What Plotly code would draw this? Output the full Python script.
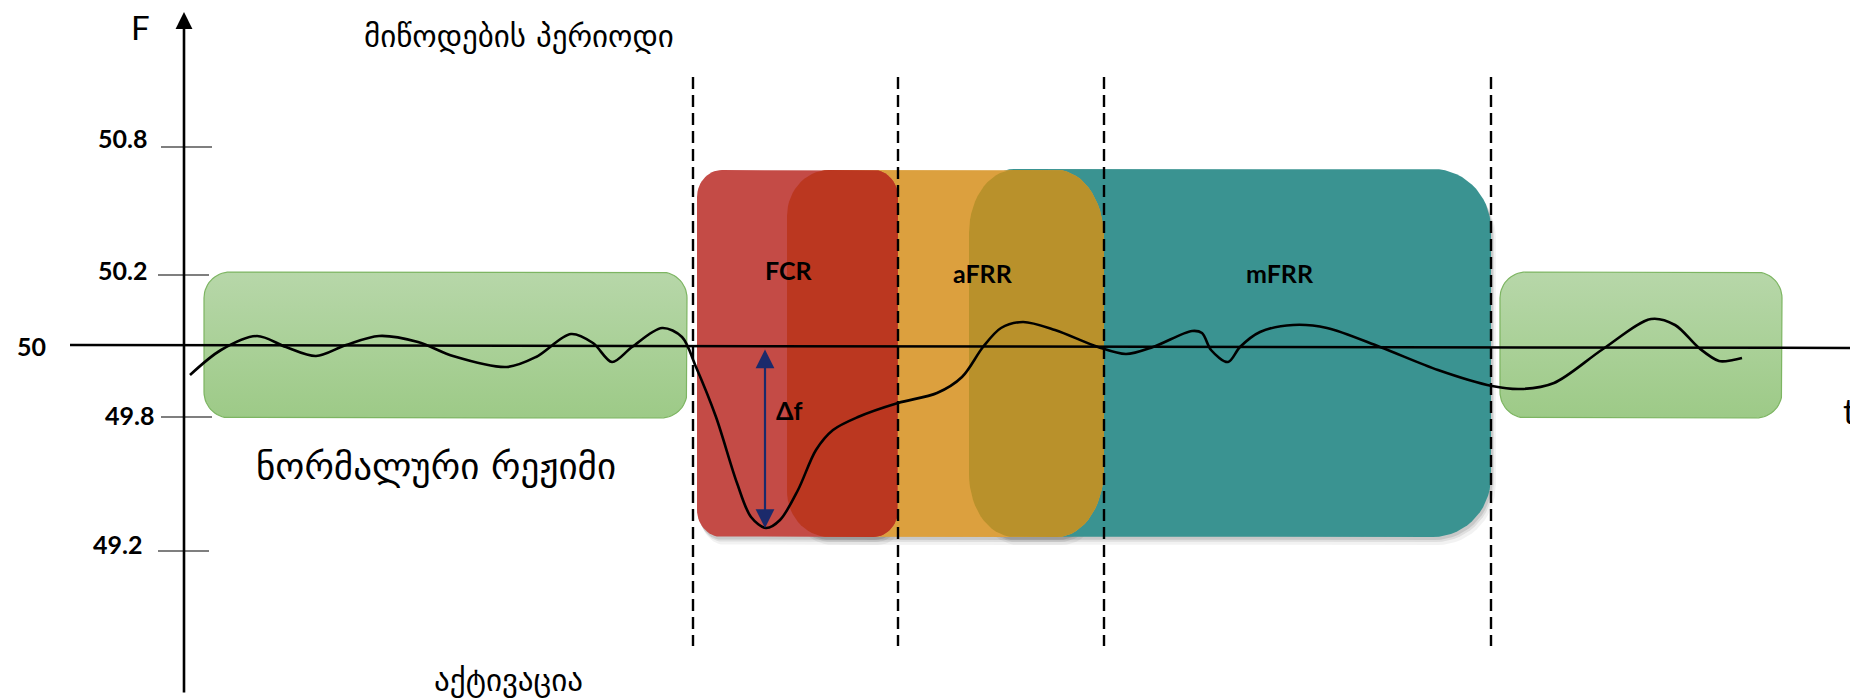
import numpy as np
import plotly.graph_objects as go

# ---------------- data (in chart units: t -> px, f -> px) -------------
curve_t = [190, 221, 257, 286, 316, 346, 379, 418, 453, 507, 536, 571, 593, 612, 632, 662, 682,
           696, 716, 737, 751, 766, 780, 798, 816, 833, 858, 898, 937, 962, 983, 1001, 1023, 1055,
           1098, 1126, 1153, 1192, 1202, 1211, 1228, 1240, 1260, 1293, 1327, 1380, 1438, 1492,
           1521, 1554, 1603, 1651, 1675, 1699, 1719, 1733, 1742]
curve_f = [375, 350, 336, 347, 356, 345, 336, 342, 356, 367, 357, 334, 343, 362, 347, 328, 337,
           367, 417, 483, 517, 528, 520, 490, 450, 430, 417, 403, 393, 377, 347, 328, 322, 330,
           347, 354, 347, 331, 333, 350, 362, 347, 332, 325, 328, 347, 370, 386,
           389, 383, 349, 319, 325, 348, 361, 360, 358]

baseline_t = [70, 1858]
baseline_f = [345, 348]

tick_labels = ["50.8", "50.2", "50", "49.8", "49.2"]
tick_pos = [147, 275, 345, 417, 551]

period_bounds = [693, 898, 1104, 1491]

reserve_names = ["FCR", "aFRR", "mFRR"]
reserve_start = [697, 787, 969]
reserve_end = [898, 1104, 1491]

normal_start = [204, 1500]
normal_end = [687, 1782]

delta_f_top = 348
delta_f_bottom = 528
delta_f_t = 765

# ---------------- helpers ----------------
def rrect(x0, x1, y0, y1, rl, rr, n=16):
    """rounded rectangle; rl / rr = (rx, ry) of left / right corners"""
    xs, ys = [], []
    def arc(cx, cy, rx, ry, a0, a1):
        for th in np.linspace(a0, a1, n):
            xs.append(cx + rx * np.cos(th))
            ys.append(cy - ry * np.sin(th))
    arc(x0 + rl[0], y0 + rl[1], rl[0], rl[1], np.pi, np.pi / 2)
    arc(x1 - rr[0], y0 + rr[1], rr[0], rr[1], np.pi / 2, 0)
    arc(x1 - rr[0], y1 - rr[1], rr[0], rr[1], 0, -np.pi / 2)
    arc(x0 + rl[0], y1 - rl[1], rl[0], rl[1], -np.pi / 2, -np.pi)
    xs.append(xs[0]); ys.append(ys[0])
    return xs, ys

fig = go.Figure()

def add_poly(xs, ys, color, line_color=None, line_width=0, gradient=None):
    kw = dict(x=xs, y=ys, mode="lines", fill="toself", hoverinfo="skip", showlegend=False,
              line=dict(color=line_color or "rgba(0,0,0,0)", width=line_width))
    if gradient:
        kw["fillgradient"] = gradient
    else:
        kw["fillcolor"] = color
    fig.add_trace(go.Scatter(**kw))

BOX_TOP, BOX_BOT = 170, 537
R_RED = (25, 27)
R_ORG_L, R_ORG_R = (42, 46), (47, 68)
R_TEAL_L, R_TEAL_R = (45, 63), (58, 60)

# soft shadows
for s, e, rl, rr in [(697, 898, R_RED, R_RED), (787, 1104, R_ORG_L, R_ORG_R),
                     (969, 1491, R_TEAL_L, R_TEAL_R)]:
    for off, a in [(8, 0.05), (5, 0.08), (3, 0.10)]:
        xs, ys = rrect(s + off * 0.5, e + off * 0.6, BOX_TOP + off, BOX_BOT + off, rl, rr)
        add_poly(xs, ys, f"rgba(0,0,0,{a})")

# mFRR (teal)
xs, ys = rrect(reserve_start[2], reserve_end[2], BOX_TOP - 1, BOX_BOT, R_TEAL_L, R_TEAL_R)
add_poly(xs, ys, "#3A9391")
# aFRR (orange)
xs, ys = rrect(reserve_start[1], reserve_end[1], BOX_TOP, BOX_BOT, R_ORG_L, R_ORG_R)
add_poly(xs, ys, "#DCA03E")
# overlap aFRR / mFRR (olive)
xs, ys = rrect(reserve_start[2], reserve_end[1], BOX_TOP, BOX_BOT, R_TEAL_L, R_ORG_R)
add_poly(xs, ys, "#B9912B")
# FCR (red)
xs, ys = rrect(reserve_start[0], reserve_end[0], BOX_TOP, BOX_BOT, R_RED, R_RED)
add_poly(xs, ys, "#C44B46")
# overlap FCR / aFRR (dark red)
xs, ys = rrect(reserve_start[1], reserve_end[0], BOX_TOP, BOX_BOT, R_ORG_L, R_RED)
add_poly(xs, ys, "#BB3720")

# normal-regime green boxes
for s, e in zip(normal_start, normal_end):
    xs, ys = rrect(s, e, 272, 418, (26, 26), (26, 26))
    add_poly(xs, ys, None, line_color="#7DB562", line_width=1.2,
             gradient=dict(type="vertical",
                           colorscale=[[0, "#9DCA87"], [1, "#B7D7A9"]]))

# dashed period boundaries
for b in period_bounds:
    fig.add_trace(go.Scatter(x=[b, b], y=[77, 646], mode="lines", hoverinfo="skip",
                             showlegend=False,
                             line=dict(color="black", width=2.4, dash="12px,6px")))

# tick marks
tick_x = [(161, 212), (158, 209), None, (161, 212), (158, 209)]
for tx, p in zip(tick_x, tick_pos):
    if tx is None:
        continue
    fig.add_trace(go.Scatter(x=list(tx), y=[p, p], mode="lines", hoverinfo="skip",
                             showlegend=False, line=dict(color="black", width=1.2)))

# baseline 50 Hz
fig.add_trace(go.Scatter(x=baseline_t, y=baseline_f, mode="lines", hoverinfo="skip",
                         showlegend=False, line=dict(color="black", width=2.5)))

# frequency curve
fig.add_trace(go.Scatter(x=curve_t, y=curve_f, mode="lines", hoverinfo="skip",
                         showlegend=False,
                         line=dict(color="black", width=2.6, shape="spline", smoothing=0.9)))

ann = []
# y axis arrow
ann.append(dict(x=184, y=12, ax=184, ay=694, xref="x", yref="y", axref="x", ayref="y",
                showarrow=True, arrowhead=2, arrowsize=1.3, arrowwidth=2.6, arrowcolor="black",
                text=""))
# delta f double arrow
ann.append(dict(x=delta_f_t, y=delta_f_bottom, ax=delta_f_t, ay=delta_f_top, xref="x", yref="y",
                axref="x", ayref="y", showarrow=True, arrowhead=2, startarrowhead=2,
                arrowside="end+start", arrowsize=1.7, startarrowsize=1.7, arrowwidth=2.2,
                arrowcolor="#1B2A6B", text=""))

tick_lx = [122, 122, 31, 129, 117]
tick_ly = [138, 270, 346, 415, 544]
for lab, lx, ly in zip(tick_labels, tick_lx, tick_ly):
    ann.append(dict(x=lx, y=ly, text=lab, showarrow=False,
                    font=dict(family="Lato", size=25, color="black", weight="bold")))

bold = dict(family="Lato", size=25, color="black", weight="bold")
ann.append(dict(x=789, y=270, text="FCR", showarrow=False, font=bold))
ann.append(dict(x=983, y=273, text="aFRR", showarrow=False, font=bold))
ann.append(dict(x=1280, y=273, text="mFRR", showarrow=False, font=bold))
ann.append(dict(x=789, y=410, text="Δf", showarrow=False, font=bold))

ann.append(dict(x=140, y=27, text="F", showarrow=False,
                font=dict(family="Lato", size=33, color="black")))
ann.append(dict(x=1849, y=410, text="t", showarrow=False,
                font=dict(family="Lato", size=34, color="black")))

geo = "DejaVu Sans"
ann.append(dict(x=519, y=36, text="მიწოდების პერიოდი", showarrow=False,
                font=dict(family=geo, size=31, color="black")))
ann.append(dict(x=436, y=466, text="ნორმალური რეჟიმი", showarrow=False,
                font=dict(family=geo, size=37, color="black")))
ann.append(dict(x=508, y=680, text="აქტივაცია", showarrow=False,
                font=dict(family=geo, size=31, color="black")))

for a in ann:
    a.setdefault("xref", "x")
    a.setdefault("yref", "y")

# the page body has an 8px margin: offset the ranges so chart units equal page pixels
OFF = 8
fig.update_layout(
    width=1858, height=700, margin=dict(l=0, r=0, t=0, b=0),
    paper_bgcolor="white", plot_bgcolor="white",
    xaxis=dict(range=[OFF, 1858 + OFF], visible=False, fixedrange=True),
    yaxis=dict(range=[700 + OFF, OFF], visible=False, fixedrange=True),
    annotations=ann, showlegend=False,
)

fig.write_html("out.html")
